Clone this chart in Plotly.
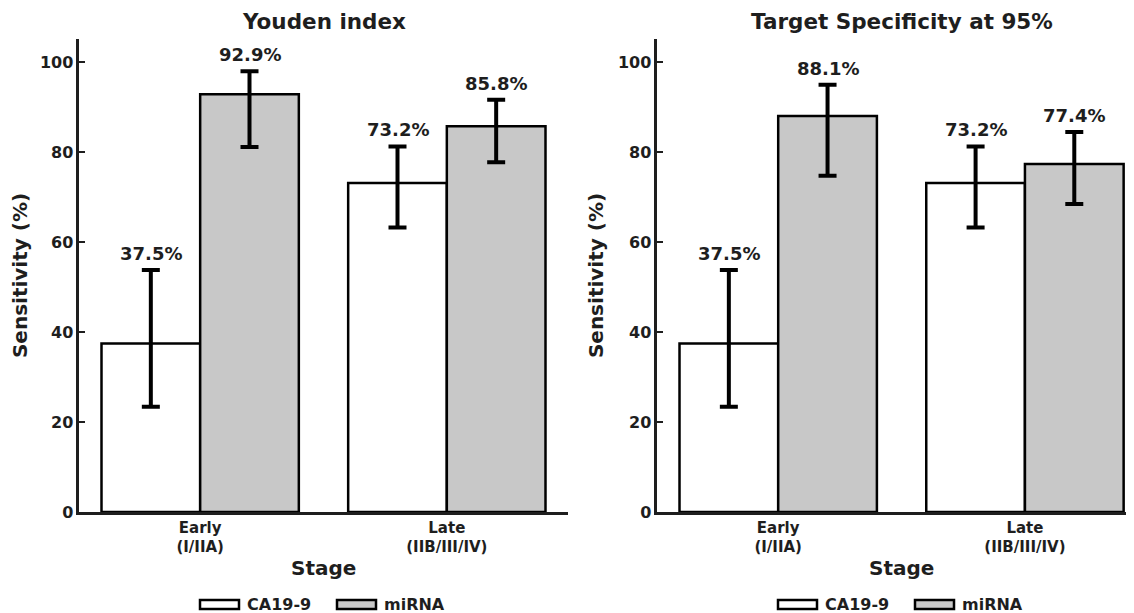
import plotly.graph_objects as go

# ---- data ----
stages = ["Early<br>(I/IIA)", "Late<br>(IIB/III/IV)"]
stage_pos = [0, 1]
panel_titles = ["Youden index", "Target Specificity at 95%"]
series_names = ["CA19-9", "miRNA"]

youden_ca199 = [37.5, 73.2]
youden_ca199_lo = [23.4, 63.3]
youden_ca199_hi = [53.8, 81.3]
youden_mirna = [92.9, 85.8]
youden_mirna_lo = [81.2, 77.8]
youden_mirna_hi = [98.0, 91.7]

spec_ca199 = [37.5, 73.2]
spec_ca199_lo = [23.4, 63.3]
spec_ca199_hi = [53.8, 81.3]
spec_mirna = [88.1, 77.4]
spec_mirna_lo = [74.8, 68.5]
spec_mirna_hi = [95.0, 84.5]

y_ticks = [0, 20, 40, 60, 80, 100]

# ---- style / layout (page body has an 8px margin) ----
OFF = 8
W, H = 1134 - OFF, 613 - OFF
FONT = "DejaVu Sans"
INK = "#1e1e1e"
GREY = "#c8c8c8"
colors = ["white", GREY]


def fx(px):  # reference x pixel -> paper x
    return (px - OFF) / W


top_px, bot_px = 39.3 - OFF, 511.7 - OFF
plot_h = bot_px - top_px


def fy(py):  # reference y pixel -> paper y
    return (bot_px - (py - OFF)) / plot_h


fig = go.Figure()

panels = [
    (youden_ca199, youden_ca199_lo, youden_ca199_hi, youden_mirna, youden_mirna_lo, youden_mirna_hi),
    (spec_ca199, spec_ca199_lo, spec_ca199_hi, spec_mirna, spec_mirna_lo, spec_mirna_hi),
]

domains = [[fx(79.3), fx(567.7)], [fx(657.3), 1.0]]
xranges = [[-0.49, 1.49], [-0.49, 1.442]]
panel_cx = [323.5, 901.5]
offsets = [-0.2, 0.2]

for i, (ca, ca_lo, ca_hi, mi, mi_lo, mi_hi) in enumerate(panels):
    xa = "x" if i == 0 else "x2"
    ya = "y" if i == 0 else "y2"
    for name, vals, lo, hi, color, off in [
        (series_names[0], ca, ca_lo, ca_hi, colors[0], offsets[0]),
        (series_names[1], mi, mi_lo, mi_hi, colors[1], offsets[1]),
    ]:
        fig.add_trace(go.Bar(
            x=stage_pos, y=vals, name=name, xaxis=xa, yaxis=ya,
            offsetgroup=name, showlegend=False,
            marker=dict(color=color, line=dict(color="black", width=2.5)),
            error_y=dict(type="data", symmetric=False,
                         array=[h - v for h, v in zip(hi, vals)],
                         arrayminus=[v - l for v, l in zip(vals, lo)],
                         color="black", thickness=4, width=9),
        ))
        for xp, v, h in zip(stage_pos, vals, hi):
            fig.add_annotation(
                x=xp + off, y=h, xref=xa, yref=ya, text=f"<b>{v:.1f}%</b>",
                showarrow=False, yanchor="bottom", yshift=4,
                font=dict(family=FONT, size=18, color=INK),
            )
    cx = fx(panel_cx[i])
    # panel title
    fig.add_annotation(
        x=cx, y=fy(22), xref="paper", yref="paper",
        text=f"<b>{panel_titles[i]}</b>", showarrow=False,
        xanchor="center", yanchor="middle",
        font=dict(family=FONT, size=21.5, color=INK),
    )
    # x axis title
    fig.add_annotation(
        x=cx, y=fy(568), xref="paper", yref="paper",
        text="<b>Stage</b>", showarrow=False,
        xanchor="center", yanchor="middle",
        font=dict(family=FONT, size=20, color=INK),
    )
    # legend (wide patches like the reference)
    lx0 = 200 + 578 * i
    for k, (name, col) in enumerate(zip(series_names, colors)):
        bx = lx0 + 137 * k
        fig.add_shape(type="rect", xref="paper", yref="paper",
                      x0=fx(bx), x1=fx(bx + 39), y0=fy(608.5), y1=fy(599.5),
                      fillcolor=col, line=dict(color="black", width=2.5))
        fig.add_annotation(
            x=fx(bx + 45), y=fy(604), xref="paper", yref="paper",
            text=f"<b>{name}</b>", showarrow=False,
            xanchor="left", yanchor="middle",
            font=dict(family=FONT, size=16, color=INK),
        )

for i in range(2):
    sx = "" if i == 0 else "2"
    fig.update_layout(**{
        f"xaxis{sx}": dict(
            domain=domains[i], range=xranges[i], tickmode="array",
            tickvals=stage_pos, ticktext=stages, ticks="", anchor=f"y{sx}",
            showline=True, linecolor=INK, linewidth=2.5, showgrid=False, zeroline=False,
            tickfont=dict(family=FONT, size=15, color=INK, weight="bold"),
        ),
        f"yaxis{sx}": dict(
            domain=[0, 1], range=[0, 105.2], tickmode="array", tickvals=y_ticks,
            ticks="inside", ticklen=6, tickwidth=2, tickcolor=INK,
            anchor=f"x{sx}",
            showline=True, linecolor=INK, linewidth=2.5, showgrid=False, zeroline=False,
            tickfont=dict(family=FONT, size=16, color=INK, weight="bold"),
            title=dict(text="Sensitivity (%)", standoff=9,
                       font=dict(family=FONT, size=20, color=INK, weight="bold")),
        ),
    })

fig.update_layout(
    width=W, height=H,
    margin=dict(l=0, r=0, t=top_px, b=H - bot_px),
    plot_bgcolor="white", paper_bgcolor="white",
    barmode="group", bargap=0.2, bargroupgap=0,
    font=dict(family=FONT, color=INK),
    showlegend=False,
)

fig.write_html("out.html")
